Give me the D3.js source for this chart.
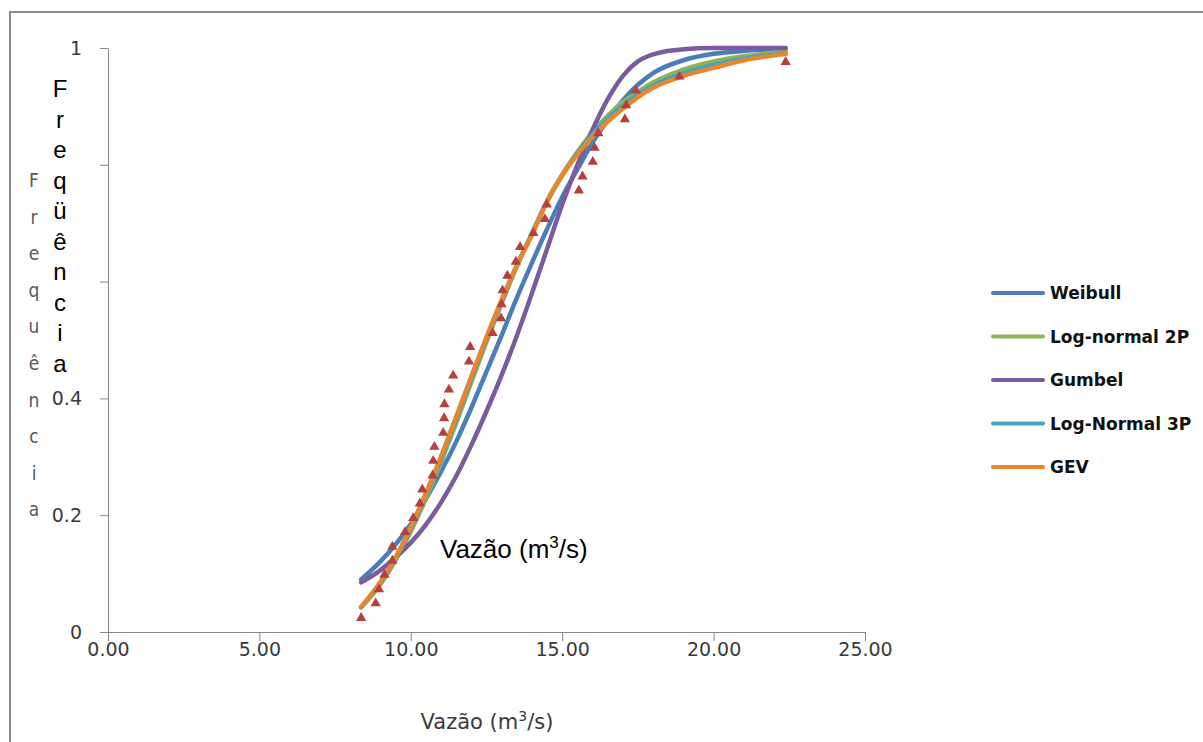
<!DOCTYPE html>
<html>
<head>
<meta charset="utf-8">
<script src="https://cdn.jsdelivr.net/npm/d3@7"></script>
<style>
  body { margin: 0; background: #fff; }
  svg { display: block; }
</style>
</head>
<body>
<div id="chart"></div>
<script>
// x values where the fitted curves were read
const xGrid = [8.36, 9, 9.5, 10, 10.5, 11, 11.5, 12, 12.5, 13, 13.5, 14, 14.5, 15, 15.5, 16, 16.5, 17, 17.5, 18, 19, 20, 21, 22.38];

const weibull = [0.090, 0.121, 0.150, 0.185, 0.228, 0.275, 0.326, 0.384, 0.446, 0.508, 0.572, 0.632, 0.690, 0.745, 0.792, 0.838, 0.876, 0.910, 0.937, 0.957, 0.979, 0.990, 0.995, 0.998];
const logNormal2P = [0.042, 0.082, 0.123, 0.172, 0.229, 0.291, 0.358, 0.428, 0.497, 0.563, 0.626, 0.683, 0.737, 0.783, 0.822, 0.856, 0.884, 0.907, 0.925, 0.941, 0.963, 0.977, 0.986, 0.993];
const gumbel = [0.085, 0.106, 0.128, 0.153, 0.184, 0.222, 0.267, 0.320, 0.378, 0.440, 0.507, 0.580, 0.656, 0.732, 0.800, 0.860, 0.912, 0.952, 0.977, 0.989, 0.998, 1.0, 1.0, 1.0];
const logNormal3P = [0.043, 0.084, 0.126, 0.176, 0.234, 0.296, 0.364, 0.433, 0.501, 0.566, 0.627, 0.681, 0.737, 0.782, 0.820, 0.852, 0.879, 0.901, 0.920, 0.936, 0.957, 0.971, 0.982, 0.991];
const gev = [0.043, 0.086, 0.128, 0.180, 0.238, 0.301, 0.369, 0.438, 0.505, 0.569, 0.628, 0.680, 0.738, 0.782, 0.818, 0.848, 0.874, 0.896, 0.916, 0.932, 0.952, 0.966, 0.979, 0.990];

// observed flows and their empirical frequencies
const obsFlow = [8.36, 8.84, 8.95, 9.13, 9.39, 9.39, 9.81, 10.08, 10.30, 10.38, 10.72, 10.74, 10.78, 11.07, 11.10, 11.11, 11.26, 11.40, 11.92, 11.96,
                 12.70, 12.98, 13.00, 13.03, 13.19, 13.47, 13.61, 14.05, 14.43, 14.49, 15.55, 15.67, 16.01, 16.07, 16.19, 17.07, 17.11, 17.43, 18.87, 22.38];
const obsFreq = [0.024, 0.049, 0.073, 0.098, 0.122, 0.146, 0.171, 0.195, 0.220, 0.244, 0.268, 0.293, 0.317, 0.341, 0.366, 0.390, 0.415, 0.439, 0.463, 0.488,
                 0.512, 0.537, 0.561, 0.585, 0.610, 0.634, 0.659, 0.683, 0.707, 0.732, 0.756, 0.780, 0.805, 0.829, 0.854, 0.878, 0.902, 0.927, 0.951, 0.976];

const seriesNames = ["Weibull", "Log-normal 2P", "Gumbel", "Log-Normal 3P", "GEV"];
const seriesColors = ["#4a7ebb", "#93b455", "#7a5c9e", "#45a5c0", "#e8862f"];
const xTicks = [0, 5, 10, 15, 20, 25];
const yTicks = [0, 0.2, 0.4, 0.6, 0.8, 1];
const yTickLabels = ["0", "0.2", "0.4", "", "", "1"];

const width = 1203;
const height = 742;
const axisColor = "#868686";
const tickFont = "'DejaVu Sans', sans-serif";
const arial = "'Liberation Sans', Arial, sans-serif";

const svg = d3
    .select("#chart")
    .append("svg")
    .attr("width", width)
    .attr("height", height);

svg.append("rect").attr("width", width).attr("height", height).attr("fill", "#fff");

// chart frame
svg.append("path")
    .attr("d", "M10,742V12H1203")
    .attr("fill", "none")
    .attr("stroke", "#8a8a8a")
    .attr("stroke-width", 2);

const x = d3.scaleLinear().domain([0, 25]).range([108, 865]);
const y = d3.scaleLinear().domain([0, 1]).range([632, 48]);

const xAxis = svg.append("g")
    .attr("transform", "translate(0,632)")
    .call(d3.axisBottom(x)
        .tickValues(xTicks)
        .tickFormat(d3.format(".2f"))
        .tickSize(9)
        .tickSizeOuter(0)
        .tickPadding(2));

const yAxis = svg.append("g")
    .attr("transform", "translate(108,0)")
    .call(d3.axisLeft(y)
        .tickValues(yTicks)
        .tickFormat((d, i) => yTickLabels[i])
        .tickSize(8)
        .tickSizeOuter(0)
        .tickPadding(18));

[xAxis, yAxis].forEach((g) => {
    g.select(".domain").attr("stroke", axisColor);
    g.selectAll(".tick line").attr("stroke", axisColor);
    g.selectAll("text")
        .style("font-family", tickFont)
        .style("font-size", "19px")
        .attr("fill", "#3a3a3a");
});

// fitted curves
const series = seriesNames.map((name, i) => ({
    name: name,
    color: seriesColors[i],
    values: [weibull, logNormal2P, gumbel, logNormal3P, gev][i]
}));

const line = d3.line()
    .x((d, i) => x(xGrid[i]))
    .y((d) => y(d))
    .curve(d3.curveMonotoneX);

svg.selectAll(".curve")
    .data(series)
    .enter()
    .append("path")
    .attr("class", "curve")
    .attr("fill", "none")
    .attr("stroke", (d) => d.color)
    .attr("stroke-width", 4.5)
    .attr("stroke-linecap", "round")
    .attr("d", (d) => line(d.values));

// observed points
svg.selectAll(".obs")
    .data(obsFlow)
    .enter()
    .append("path")
    .attr("class", "obs")
    .attr("d", d3.symbol().type(d3.symbolTriangle).size(46))
    .attr("transform", (d, i) => `translate(${x(d)},${y(obsFreq[i])})`)
    .attr("fill", "#b6403d");

// legend
const legend = svg.selectAll(".legend")
    .data(series)
    .enter()
    .append("g")
    .attr("class", "legend")
    .attr("transform", (d, i) => `translate(993,${293 + i * 43.5})`);

legend.append("line")
    .attr("x1", 0)
    .attr("x2", 50)
    .attr("stroke", (d) => d.color)
    .attr("stroke-width", 4)
    .attr("stroke-linecap", "round");

legend.append("text")
    .attr("x", 57)
    .attr("y", 6)
    .style("font-family", tickFont)
    .style("font-size", "17px")
    .style("font-weight", "bold")
    .attr("fill", "#111")
    .text((d) => d.name);

// x axis title with superscript
function unitTitle(sel, size, supSize, rise) {
    sel.append("tspan").text("Vazão (m");
    sel.append("tspan").attr("dy", -rise).style("font-size", supSize + "px").text("3");
    sel.append("tspan").attr("dy", rise).text("/s)");
}

svg.append("text")
    .attr("x", 487)
    .attr("y", 729)
    .attr("text-anchor", "middle")
    .style("font-family", tickFont)
    .style("font-size", "21px")
    .attr("fill", "#3a3a3a")
    .call(unitTitle, 21, 14, 8);

// second x title inside plot
svg.append("text")
    .attr("x", 440)
    .attr("y", 558)
    .style("font-family", arial)
    .style("font-size", "26px")
    .attr("fill", "#000")
    .call(unitTitle, 26, 17, 10);

// stacked y titles
const bigLetters = "Freqüência".split("");
svg.selectAll(".ybig")
    .data(bigLetters)
    .enter()
    .append("text")
    .attr("class", "ybig")
    .attr("x", 60)
    .attr("y", (d, i) => 97 + i * 30.5)
    .attr("text-anchor", "middle")
    .style("font-family", arial)
    .style("font-size", "24px")
    .attr("fill", "#000")
    .text((d) => d);

const smallLetters = "Frequência".split("");
svg.selectAll(".ysmall")
    .data(smallLetters)
    .enter()
    .append("text")
    .attr("class", "ysmall")
    .attr("x", 34)
    .attr("y", (d, i) => 187 + i * 36.6)
    .attr("text-anchor", "middle")
    .style("font-family", "'Liberation Sans Narrow', 'DejaVu Sans Condensed', sans-serif")
    .style("font-size", "19px")
    .attr("fill", "#595959")
    .text((d) => d);
</script>
</body>
</html>
